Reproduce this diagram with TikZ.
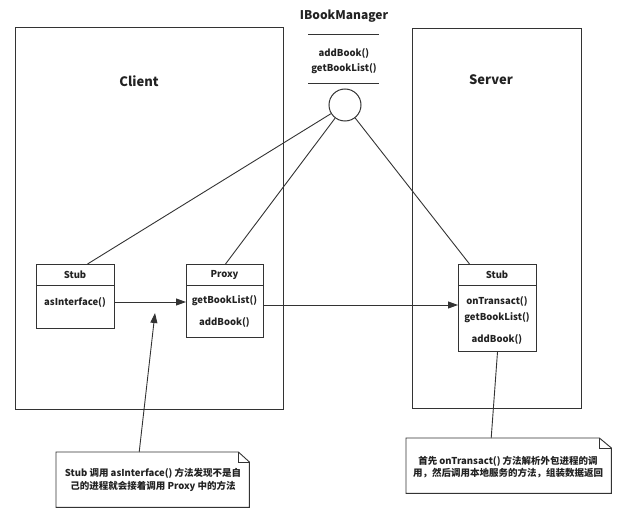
\documentclass[tikz,border=0pt]{standalone}
\usepackage{fontspec}
\setmainfont{Noto Sans CJK SC}
\usetikzlibrary{arrows.meta}
\definecolor{ln}{HTML}{333333}
\definecolor{tx}{HTML}{222222}
\tikzset{
  every node/.style={text=tx, font=\bfseries\fontsize{9.5}{11}\selectfont},
  frame/.style={draw=ln, line width=1.2pt, inner sep=0pt, anchor=north west},
  cell/.style={draw=ln, line width=1pt, inner sep=0pt, anchor=north west},
  lbl/.style={inner sep=0pt},
  wire/.style={draw=ln, line width=0.9pt},
  arr/.style={wire, -{Triangle[length=10pt,width=7pt]}},
  notetxt/.style={inner sep=0pt, align=center, anchor=north west},
}
\begin{document}
\begin{tikzpicture}[x=1pt,y=-1pt]
\useasboundingbox (0,0) rectangle (622,516);
% frames
\node[frame, minimum width=268pt, minimum height=382pt] (client) at (15,27) {};
\node[frame, minimum width=169pt, minimum height=380pt] (server) at (412,28) {};
\node[lbl, font=\bfseries\fontsize{13}{15}\selectfont] (clientlbl) at (139,81) {Client};
\node[lbl, font=\bfseries\fontsize{13}{15}\selectfont] (serverlbl) at (491,80) {Server};
% interface
\node[lbl, font=\bfseries\fontsize{12}{14}\selectfont] (ibmt) at (344,16) {IBookManager};
\coordinate (l1a) at (308,34); \coordinate (l1b) at (379,34);
\coordinate (l2a) at (308,83); \coordinate (l2b) at (379,83);
\draw[wire] (l1a) -- (l1b);
\draw[wire] (l2a) -- (l2b);
\node[lbl] (iadd) at (344,53) {addBook()};
\node[lbl] (iget) at (344,69) {getBookList()};
\node[draw=ln, line width=1pt, circle, minimum size=32pt, inner sep=0pt] (ibm) at (345,105) {};
% client stub
\node[cell, minimum width=78pt, minimum height=21pt] (csh) at (36,264) {};
\node[cell, minimum width=78pt, minimum height=43pt] (csb) at (36,285) {};
\node[lbl] (cst) at (75,275) {Stub};
\node[lbl] (cas) at (75,302) {asInterface()};
% proxy
\node[cell, minimum width=77pt, minimum height=21pt] (pxh) at (186,264) {};
\node[cell, minimum width=77pt, minimum height=52pt] (pxb) at (186,285) {};
\node[lbl] (pxt) at (224.5,275) {Proxy};
\node[lbl] (pxg) at (224.5,301) {getBookList()};
\node[lbl] (pxa) at (224.5,322) {addBook()};
% server stub
\node[cell, minimum width=78pt, minimum height=21pt] (ssh) at (458,264) {};
\node[cell, minimum width=78pt, minimum height=66pt] (ssb) at (458,285) {};
\node[lbl] (sst) at (497,275) {Stub};
\node[lbl] (sso) at (497,301) {onTransact()};
\node[lbl] (ssg) at (497,318) {getBookList()};
\node[lbl] (ssa) at (497,339) {addBook()};
% circle links
\draw[wire] (ibm) -- ([xshift=12pt]csh.north);
\draw[wire] (ibm) -- ([xshift=0.5pt]pxh.north);
\draw[wire] (ibm) -- ([xshift=-28pt]ssh.north);
% arrows
\draw[arr] (csb.east |- 0,302) -- (pxb.west |- 0,302);
\draw[arr] (pxb.east |- 0,305) -- (ssb.west |- 0,305);
% note 1
\node[notetxt, minimum width=193pt, minimum height=55pt] (n1) at (56,452) {};
\draw[wire, fill=white] (n1.north west) -- ([xshift=-11pt]n1.north east) -- ([yshift=-10pt]n1.north east) -- (n1.south east) -- (n1.south west) -- cycle;
\draw[wire] ([xshift=-11pt]n1.north east) -- ([xshift=-11pt,yshift=-10pt]n1.north east) -- ([yshift=-10pt]n1.north east);
\node[lbl] (n1a) at (153,473) {Stub 调用 asInterface() 方法发现不是自};
\node[lbl] (n1b) at (153,486) {己的进程就会接着调用 Proxy 中的方法};
\coordinate (tip1) at (155,313);
\draw[arr] ([xshift=-13.5pt]n1.north) -- (tip1);
% note 2
\node[notetxt, minimum width=205pt, minimum height=55pt] (n2) at (406,438) {};
\draw[wire, fill=white] (n2.north west) -- ([xshift=-12pt]n2.north east) -- ([yshift=-10pt]n2.north east) -- (n2.south east) -- (n2.south west) -- cycle;
\draw[wire] ([xshift=-12pt]n2.north east) -- ([xshift=-12pt,yshift=-10pt]n2.north east) -- ([yshift=-10pt]n2.north east);
\node[lbl] (n2a) at (508,461) {首先 onTransact() 方法解析外包进程的调};
\node[lbl] (n2b) at (508,473) {用，然后调用本地服务的方法，组装数据返回};
\draw[wire] ([xshift=-17.5pt]n2.north) -- ([xshift=-0pt]ssb.south);
\end{tikzpicture}
\end{document}
